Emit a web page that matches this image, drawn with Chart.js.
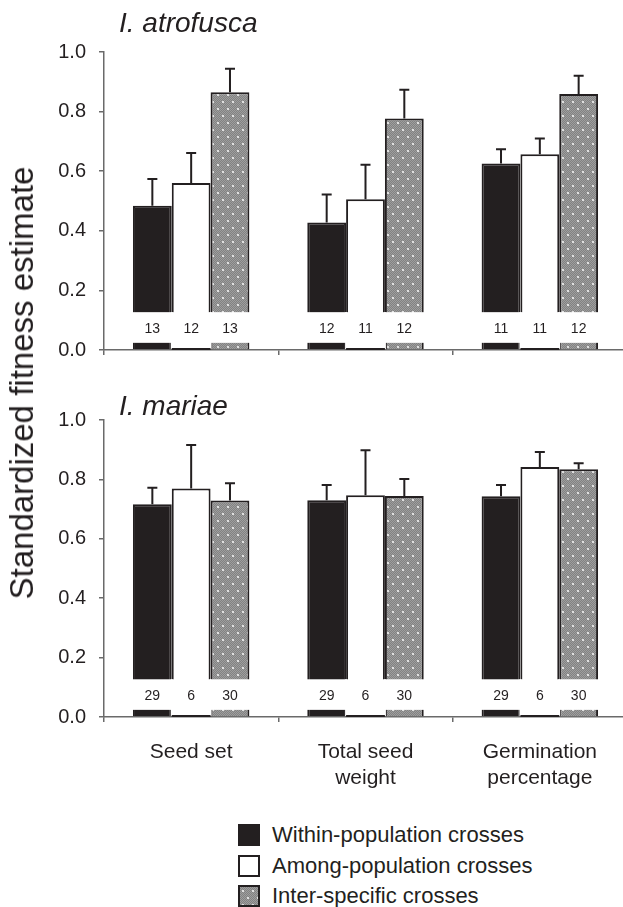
<!DOCTYPE html>
<html>
<head>
<meta charset="utf-8">
<script src="https://cdn.jsdelivr.net/npm/chart.js@4"></script>
<style>
  body { margin: 0; background: #fff; overflow: hidden; width: 623px; height: 907px; position: relative;
         font-family: "Liberation Sans", Arial, sans-serif; color: #231f20; }
  canvas { position: absolute; left: 0; }
  #topChart { top: 0; }
  #bottomChart { top: 370px; }
  #ytitle { position: absolute; left: 22px; top: 383px; transform: translate(-50%, -50%) rotate(-90deg);
            font-size: 33px; white-space: nowrap; }
  #legend { position: absolute; left: 238px; top: 820px; }
  #legend .item { display: flex; align-items: center; height: 30.5px; }
  #legend .box { width: 22px; height: 22px; box-sizing: border-box; border: 2px solid #231f20; margin-right: 12px; }
  #legend .label { font-size: 22px; line-height: 22px; }
</style>
</head>
<body>
<canvas id="topChart" width="640" height="375"></canvas>
<canvas id="bottomChart" width="640" height="440"></canvas>
<div id="ytitle">Standardized fitness estimate</div>
<div id="legend"></div>

<script>
// categories and series
const categories = [["Seed set"], ["Total seed", "weight"], ["Germination", "percentage"]];
const seriesNames = ["Within-population crosses", "Among-population crosses", "Inter-specific crosses"];
const yTicks = [0, 0.2, 0.4, 0.6, 0.8, 1.0];

// I. atrofusca (means, standard errors, sample sizes)
const atroWithin = [0.484, 0.428, 0.626];
const atroWithinSE = [0.090, 0.094, 0.048];
const atroWithinN = [13, 12, 11];
const atroAmong = [0.560, 0.506, 0.657];
const atroAmongSE = [0.101, 0.116, 0.053];
const atroAmongN = [12, 11, 11];
const atroInter = [0.865, 0.777, 0.859];
const atroInterSE = [0.079, 0.096, 0.061];
const atroInterN = [13, 12, 12];

// I. mariae
const mariWithin = [0.716, 0.730, 0.743];
const mariWithinSE = [0.056, 0.051, 0.038];
const mariWithinN = [29, 29, 29];
const mariAmong = [0.769, 0.747, 0.842];
const mariAmongSE = [0.147, 0.151, 0.050];
const mariAmongN = [6, 6, 6];
const mariInter = [0.729, 0.744, 0.834];
const mariInterSE = [0.058, 0.057, 0.020];
const mariInterN = [30, 30, 30];

const INK = "#231f20";
const AXIS = "#6a6a6a";
const FONT = '"Liberation Sans", Arial, sans-serif';
// value band where bars are broken to print n
const GAP_TOP = 0.127;
const GAP_BOTTOM = 0.024;

Chart.defaults.font.family = FONT;
Chart.defaults.color = INK;

// dotted grey fill for inter-specific crosses
function makePattern() {
  const c = document.createElement("canvas");
  c.width = 10;
  c.height = 14;
  const g = c.getContext("2d");
  g.fillStyle = "#828282";
  g.fillRect(0, 0, 10, 14);
  g.fillStyle = "#9e9e9e";
  for (let x = 0; x < 10; x++) {
    for (let y = 0; y < 14; y++) {
      if ((x + y) % 2 === 0) g.fillRect(x, y, 1, 1);
    }
  }
  g.fillStyle = "#e0e0e0";
  g.fillRect(2, 3, 2, 2);
  g.fillRect(7, 10, 2, 2);
  return c;
}
const patternCanvas = makePattern();
const patternFill = patternCanvas.getContext("2d").createPattern(patternCanvas, "repeat");

const seriesStyles = [
  { backgroundColor: INK, borderColor: INK },
  { backgroundColor: "#ffffff", borderColor: INK },
  { backgroundColor: patternFill, borderColor: INK },
];

// breaks bars, writes n, draws error bars and panel title
const panelDecor = {
  id: "panelDecor",
  afterDatasetsDraw(chart, args, opts) {
    const ctx = chart.ctx;
    const y = chart.scales.y;
    const yTop = y.getPixelForValue(GAP_TOP);
    const yBot = y.getPixelForValue(GAP_BOTTOM);
    const y0 = y.getPixelForValue(0);
    ctx.save();
    chart.data.datasets.forEach((ds, di) => {
      const meta = chart.getDatasetMeta(di);
      meta.data.forEach((bar, i) => {
        const half = bar.width / 2;
        const bottom = di === 1 ? y0 - 1 : yBot;
        ctx.fillStyle = "#fff";
        ctx.fillRect(bar.x - half - 1, yTop, bar.width + 2, bottom - yTop);
        if (di === 1) {
          ctx.fillStyle = INK;
          ctx.fillRect(bar.x - half, y0 - 2, bar.width, 2);
        }
        ctx.fillStyle = INK;
        ctx.font = "14px " + FONT;
        ctx.textAlign = "center";
        ctx.textBaseline = "middle";
        ctx.fillText(String(ds.n[i]), bar.x, (yTop + yBot) / 2 + 2);

        const yErr = y.getPixelForValue(ds.data[i] + ds.se[i]);
        ctx.strokeStyle = INK;
        ctx.lineWidth = 2;
        ctx.beginPath();
        ctx.moveTo(bar.x, bar.y);
        ctx.lineTo(bar.x, yErr);
        ctx.moveTo(bar.x - 5, yErr);
        ctx.lineTo(bar.x + 5, yErr);
        ctx.stroke();
      });
    });
    ctx.fillStyle = INK;
    ctx.font = "italic 28px " + FONT;
    ctx.textAlign = "left";
    ctx.textBaseline = "alphabetic";
    ctx.fillText(opts.text, chart.chartArea.left + 15, opts.baseline);
    ctx.restore();
  },
};

function makePanel(canvasId, title, titleBaseline, means, ses, ns, showLabels, axisHeight, padTop) {
  return new Chart(document.getElementById(canvasId), {
    type: "bar",
    data: {
      labels: categories,
      datasets: seriesNames.map((name, k) => ({
        label: name,
        data: means[k],
        se: ses[k],
        n: ns[k],
        backgroundColor: seriesStyles[k].backgroundColor,
        borderColor: seriesStyles[k].borderColor,
        borderWidth: 2,
        categoryPercentage: 0.668,
        barPercentage: 1.0,
      })),
    },
    options: {
      responsive: false,
      animation: false,
      layout: { padding: { left: 0, right: 13, top: padTop, bottom: 0 } },
      scales: {
        x: {
          grid: { drawOnChartArea: false, drawTicks: true, tickLength: 5, color: AXIS, lineWidth: 1.5 },
          border: { display: true, color: AXIS, width: 1.5 },
          ticks: {
            display: showLabels,
            maxRotation: 0,
            autoSkip: false,
            padding: 17,
            font: { size: 21, lineHeight: 1.25 },
            color: INK,
          },
          afterFit(scale) {
            scale.height = axisHeight;
          },
        },
        y: {
          min: 0,
          max: 1,
          afterBuildTicks(scale) {
            scale.ticks = yTicks.map((v) => ({ value: v }));
          },
          grid: { drawOnChartArea: false, drawTicks: true, tickLength: 5, color: AXIS, lineWidth: 1.5 },
          border: { display: true, color: AXIS, width: 1.5 },
          ticks: {
            padding: 13,
            font: { size: 20 },
            color: INK,
            callback: (v) => Number(v).toFixed(1),
          },
          afterFit(scale) {
            scale.width = 104;
          },
        },
      },
      plugins: {
        legend: { display: false },
        tooltip: { enabled: false },
        panelDecor: { text: title, baseline: titleBaseline },
      },
    },
    plugins: [panelDecor],
  });
}

const topPanel = makePanel(
  "topChart", "I. atrofusca", 32,
  [atroWithin, atroAmong, atroInter],
  [atroWithinSE, atroAmongSE, atroInterSE],
  [atroWithinN, atroAmongN, atroInterN],
  false, 11, 52
);

const bottomPanel = makePanel(
  "bottomChart", "I. mariae", 45,
  [mariWithin, mariAmong, mariInter],
  [mariWithinSE, mariAmongSE, mariInterSE],
  [mariWithinN, mariAmongN, mariInterN],
  true, 93, 50
);

// legend built from the series
const legendEl = document.getElementById("legend");
seriesNames.forEach((name, k) => {
  const row = document.createElement("div");
  row.className = "item";
  const box = document.createElement("span");
  box.className = "box";
  if (k === 2) {
    box.style.backgroundImage = "url(" + patternCanvas.toDataURL() + ")";
  } else {
    box.style.background = seriesStyles[k].backgroundColor;
  }
  const label = document.createElement("span");
  label.className = "label";
  label.textContent = name;
  row.appendChild(box);
  row.appendChild(label);
  legendEl.appendChild(row);
});
</script>
</body>
</html>
